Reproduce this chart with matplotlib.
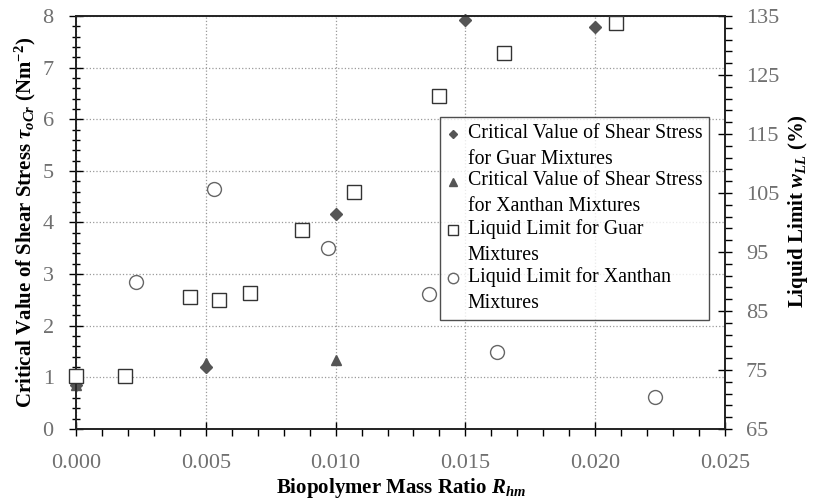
import matplotlib
matplotlib.use("Agg")
import matplotlib.pyplot as plt
import numpy as np
from matplotlib.lines import Line2D
from matplotlib.legend_handler import HandlerLine2D
from matplotlib.ticker import MultipleLocator, FormatStrFormatter

plt.rcParams['font.family'] = ['Liberation Serif', 'DejaVu Serif']
plt.rcParams['mathtext.fontset'] = 'custom'
plt.rcParams['mathtext.rm'] = 'Liberation Serif:bold'
plt.rcParams['mathtext.it'] = 'Liberation Serif:italic:bold'
plt.rcParams['mathtext.bf'] = 'Liberation Serif:bold'

# Critical shear stress (left axis)
guar_tau_x = [0.000, 0.005, 0.010, 0.015, 0.020]
guar_tau_y = [0.85, 1.21, 4.17, 7.93, 7.78]
xan_tau_x = [0.000, 0.005, 0.010]
xan_tau_y = [0.85, 1.28, 1.34]

# Liquid limit (right axis)
guar_ll_x = [0.0000, 0.0019, 0.0044, 0.0055, 0.0067, 0.0087, 0.0107, 0.0140, 0.0165, 0.0208]
guar_ll_y = [74.0, 73.9, 87.4, 86.9, 88.1, 98.8, 105.2, 121.4, 128.7, 133.8]
xan_ll_x = [0.0023, 0.0053, 0.0097, 0.0136, 0.0162, 0.0223]
xan_ll_y = [89.9, 105.6, 95.7, 87.8, 78.0, 70.5]

right_ticks = [65, 75, 85, 95, 105, 115, 125, 135]


# legend marker sits on the first line of a two-line label
class FirstLineHandler(HandlerLine2D):
    def create_artists(self, legend, orig_handle, xdescent, ydescent,
                       width, height, fontsize, trans):
        arts = super().create_artists(legend, orig_handle, xdescent, ydescent,
                                      width, height, fontsize, trans)
        for a in arts:
            a.set_ydata(np.asarray(a.get_ydata()) + 0.62 * fontsize)
        return arts


fig = plt.figure(figsize=(8.16, 4.99), dpi=100)
ax = fig.add_axes([0.0931, 0.1403, 0.7954, 0.8277])
ax2 = ax.twinx()

tick_color = '#707070'
mark_color = '#555555'

ax.plot(guar_tau_x, guar_tau_y, 'D', ms=6, color=mark_color, mec=mark_color,
        clip_on=False, zorder=5, label='Critical Value of Shear Stress\nfor Guar Mixtures')
ax.plot(xan_tau_x, xan_tau_y, '^', ms=7, color=mark_color, mec=mark_color,
        clip_on=False, zorder=5, label='Critical Value of Shear Stress\nfor Xanthan Mixtures')
ax2.plot(guar_ll_x, guar_ll_y, 's', ms=10, mfc='white', mec='#333333', mew=1.0,
         clip_on=False, zorder=4, label='Liquid Limit for Guar\nMixtures')
ax2.plot(xan_ll_x, xan_ll_y, 'o', ms=10, mfc='none', mec='#666666', mew=1.0,
         clip_on=False, zorder=4, label='Liquid Limit for Xanthan\nMixtures')

ax.set_xlim(0, 0.025)
ax.set_ylim(0, 8)
ax2.set_ylim(65, 135)

ax.xaxis.set_major_locator(MultipleLocator(0.005))
ax.xaxis.set_minor_locator(MultipleLocator(0.001))
ax.xaxis.set_major_formatter(FormatStrFormatter('%.3f'))
ax.yaxis.set_major_locator(MultipleLocator(1))
ax.yaxis.set_minor_locator(MultipleLocator(0.2))
ax2.set_yticks(right_ticks)
ax2.set_yticks(list(range(65, 136, 2)), minor=True)

ax.grid(True, which='major', color='#9a9a9a', linestyle=':', linewidth=0.9)
ax.set_axisbelow(True)

ax.tick_params(axis='x', which='major', direction='inout', length=10, width=1,
               labelsize=16, labelcolor=tick_color, pad=13)
ax.tick_params(axis='x', which='minor', direction='out', length=5, width=1)
ax.tick_params(axis='y', which='major', direction='inout', length=10, width=1,
               labelsize=16, labelcolor=tick_color, pad=11)
ax.tick_params(axis='y', which='minor', direction='inout', length=6, width=1)
ax2.tick_params(axis='y', which='major', direction='inout', length=10, width=1,
                labelsize=16, labelcolor=tick_color, pad=10)
ax2.tick_params(axis='y', which='minor', direction='out', length=5, width=1)

for a in (ax, ax2):
    for s in a.spines.values():
        s.set_linewidth(1.2)
        s.set_color('#222222')

ax.set_xlabel(r'Biopolymer Mass Ratio $R_{hm}$', fontsize=15, fontweight='bold', labelpad=2)
ax.set_ylabel(r'Critical Value of Shear Stress $\tau_{oCr}$ (Nm$^{-2}$)', fontsize=15,
              fontweight='bold', labelpad=3)
ax2.set_ylabel(r'Liquid Limit $w_{LL}$ (%)', fontsize=15, fontweight='bold',
               rotation=90, labelpad=5, y=0.528)

h1, l1 = ax.get_legend_handles_labels()
h2, l2 = ax2.get_legend_handles_labels()
leg = ax2.legend(h1 + h2, l1 + l2, loc='upper left', bbox_to_anchor=(0.561, 0.755),
                 fontsize=14.3, frameon=True, fancybox=False, edgecolor='#222222',
                 handlelength=0.6, handletextpad=0.45, labelspacing=0.12,
                 borderpad=0.35, borderaxespad=0, markerscale=0.75,
                 handler_map={Line2D: FirstLineHandler()})
for t in leg.get_texts():
    t.set_linespacing(1.5)
leg.get_frame().set_linewidth(1.0)
leg.set_zorder(10)

fig.savefig('out.png', dpi=100)
